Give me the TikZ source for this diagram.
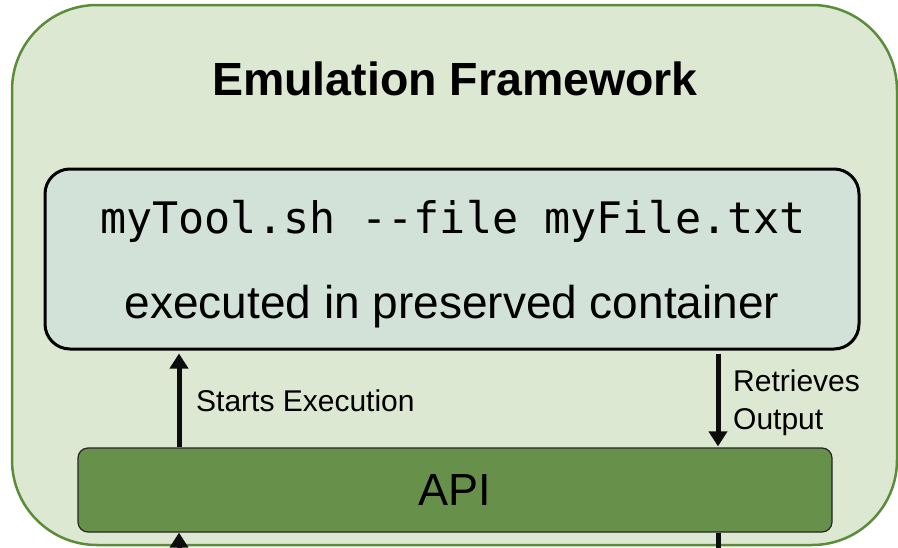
\documentclass[tikz,border=0pt]{standalone}
\usepackage{fontspec}
\setmainfont{Liberation Sans}
\setmonofont{DejaVu Sans Mono}
\usetikzlibrary{arrows.meta}
\definecolor{frameFill}{HTML}{DCE8D1}
\definecolor{frameLine}{HTML}{5B8C3A}
\definecolor{boxFill}{HTML}{D3E2D8}
\definecolor{apiFill}{HTML}{67904A}
\tikzset{
  frame/.style={draw=frameLine, line width=2.5pt, fill=frameFill, rounded corners=85pt,
    minimum width=885pt, minimum height=540pt, inner sep=0pt},
  cmdbox/.style={draw=black, line width=3pt, fill=boxFill, rounded corners=25pt,
    minimum width=814pt, minimum height=180pt, inner sep=0pt},
  apibox/.style={draw=black!85, line width=1.2pt, fill=apiFill, rounded corners=10pt,
    minimum width=754pt, minimum height=84pt, inner sep=0pt,
    font=\fontsize{45}{48}\selectfont},
  flow/.style={line width=5pt, -{Triangle[width=18pt,length=15pt]}, color=black!95},
  plainline/.style={line width=5pt, color=black!95},
  lbl/.style={font=\fontsize{30}{38}\selectfont, inner sep=0pt, align=left}
}
\begin{document}
\begin{tikzpicture}[x=1pt,y=-1pt]
  \clip (0,0) rectangle (898,547);
  \fill[white] (0,0) rectangle (898,547);
  % outer framework container
  \node[frame] (fw) at (454.5,275) {};
  \node[font=\fontsize{46.5}{52}\selectfont\bfseries, anchor=base] (title) at (455,95) {Emulation Framework};
  % command box
  \node[cmdbox] (cmd) at (452,259) {};
  \node[font=\ttfamily\fontsize{43.4}{50}\selectfont, anchor=base] (cmdtxt) at (453,233) {myTool.sh -{}-file myFile.txt};
  \node[font=\fontsize{46}{52}\selectfont, anchor=base] (cmdsub) at (452,318) {executed in preserved container};
  % API bar
  \node[apibox] (api) at (455,490) {API};
  % connectors
  \coordinate (lx) at (179,0);
  \coordinate (rx) at (718,0);
  \coordinate (lowL) at (179,600);
  \coordinate (lowR) at (718,600);
  \draw[flow, shorten >=3pt] (api.north -| lx) -- (cmd.south -| lx);
  \draw[flow, shorten <=3pt, shorten >=1pt] (cmd.south -| rx) -- (api.north -| rx);
  \draw[flow] (lowL) -- (api.south -| lx);
  \draw[plainline] (api.south -| rx) -- (lowR);
  % arrow labels
  \node[lbl, anchor=base west] (startlbl) at (196,411) {Starts Execution};
  \node[lbl, anchor=base west] (retrlbl) at (733,429) {Retrieves\\Output};
\end{tikzpicture}
\end{document}
